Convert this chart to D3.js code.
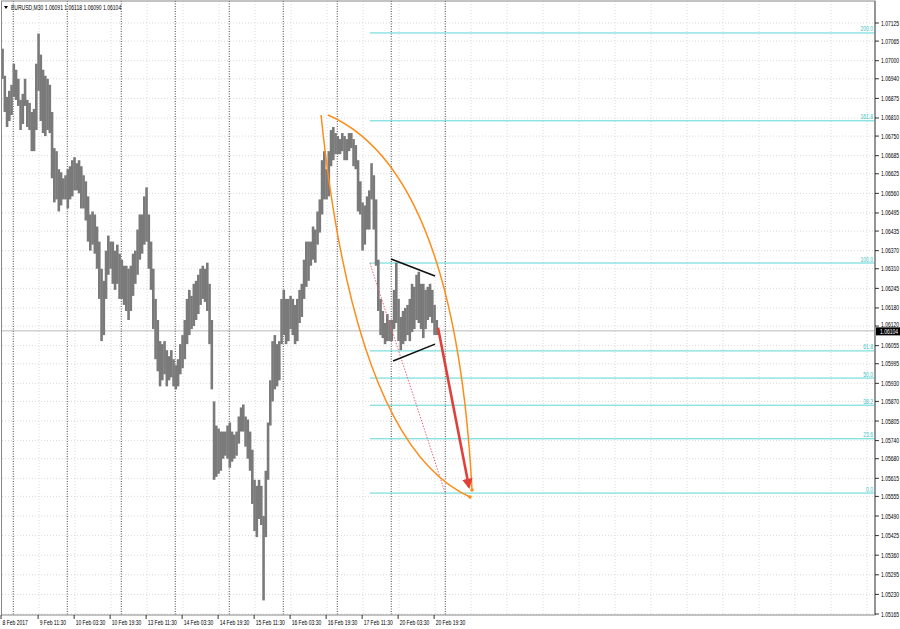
<!DOCTYPE html>
<html><head><meta charset="utf-8">
<script src="https://cdn.jsdelivr.net/npm/d3@7"></script>
<style>
body{margin:0;background:#fff}
svg{display:block}
text{font-family:"Liberation Sans",Arial,sans-serif;font-size:7px}
</style>
</head><body>
<svg id="c" width="900" height="629"></svg>
<script>
// ---------- data ----------
const symbolTitle = "EURUSD,M30";
const titleOHLC = ["1.06091", "1.06118", "1.06090", "1.06104"];
const bidPrice = 1.06104;

const priceTicks = [1.07125,1.07065,1.07000,1.06940,1.06875,1.06810,1.06750,1.06685,1.06625,1.06560,
  1.06495,1.06435,1.06370,1.06310,1.06245,1.06180,1.06120,1.06055,1.05995,1.05930,1.05870,1.05805,
  1.05740,1.05680,1.05615,1.05555,1.05490,1.05425,1.05360,1.05295,1.05230,1.05165];

// M30 bar index of each time label
const timeLabels = ["8 Feb 2017","9 Feb 11:30","10 Feb 03:30","10 Feb 19:30","13 Feb 11:30","14 Feb 03:30",
  "14 Feb 19:30","15 Feb 11:30","16 Feb 03:30","16 Feb 19:30","17 Feb 11:30","20 Feb 03:30","20 Feb 19:30"];
const timeLabelBars = [0,33,65,97,129,161,193,225,257,289,321,353,385];
const daySeparatorBars = [10,58,106,154,202,250,298,346,394];

// hourly high / low (each covers two M30 bars)
const barHighs = [
1.0704,1.0695,1.0688,1.0690,1.0692,1.0699,1.0697,1.0694,1.0687,1.0689,
1.0694,1.0687,1.0686,1.0683,1.0684,1.0699,1.0709,1.0702,1.0697,1.0695,
1.0694,1.0692,1.0683,1.0671,1.0670,1.0664,1.0663,1.0661,1.0662,1.0664,
1.0665,1.0667,1.0668,1.0666,1.0667,1.0665,1.0662,1.0660,1.0655,1.0649,
1.0650,1.0649,1.0645,1.0640,1.0631,1.0627,1.0637,1.0642,1.0640,1.0640,
1.0637,1.0639,1.0636,1.0634,1.0632,1.0632,1.0631,1.0632,1.0636,1.0637,
1.0644,1.0649,1.0649,1.0655,1.0658,1.0649,1.0640,1.0631,1.0621,1.0614,
1.0607,1.0606,1.0607,1.0604,1.0602,1.0604,1.0601,1.0599,1.0601,1.0606,
1.0609,1.0614,1.0621,1.0624,1.0622,1.0626,1.0627,1.0629,1.0631,1.0632,
1.0631,1.0633,1.0626,1.0614,1.0587,1.0579,1.0578,1.0577,1.0577,1.0577,
1.0579,1.0580,1.0577,1.0576,1.0577,1.0582,1.0585,1.0586,1.0582,1.0581,
1.0577,1.0571,1.0561,1.0559,1.0561,1.0559,1.0549,1.0564,1.0580,1.0594,
1.0607,1.0609,1.0606,1.0607,1.0621,1.0624,1.0621,1.0621,1.0622,1.0621,
1.0619,1.0621,1.0624,1.0626,1.0634,1.0640,1.0640,1.0640,1.0645,1.0644,
1.0650,1.0654,1.0667,1.0670,1.0664,1.0670,1.0677,1.0678,1.0676,1.0675,
1.0674,1.0676,1.0675,1.0674,1.0676,1.0676,1.0674,1.0672,1.0667,1.0660,
1.0653,1.0652,1.0655,1.0657,1.0666,1.0662,1.0654,1.0634,1.0621,1.0617,
1.0613,1.0616,1.0614,1.0614,1.0624,1.0633,1.0621,1.0615,1.0617,1.0618,
1.0619,1.0621,1.0626,1.0625,1.0629,1.0630,1.0626,1.0626,1.0624,1.0625,
1.0626,1.0624,1.0619,1.0614];
const barLows = [
1.0694,1.0683,1.0678,1.0680,1.0682,1.0688,1.0687,1.0685,1.0677,1.0679,
1.0685,1.0678,1.0677,1.0670,1.0670,1.0677,1.0690,1.0680,1.0676,1.0675,
1.0677,1.0676,1.0661,1.0653,1.0654,1.0650,1.0652,1.0654,1.0654,1.0651,
1.0654,1.0655,1.0657,1.0657,1.0656,1.0651,1.0651,1.0647,1.0640,1.0637,
1.0639,1.0636,1.0631,1.0621,1.0607,1.0609,1.0621,1.0629,1.0631,1.0626,
1.0624,1.0626,1.0621,1.0621,1.0619,1.0617,1.0614,1.0617,1.0622,1.0626,
1.0629,1.0634,1.0636,1.0639,1.0640,1.0631,1.0624,1.0611,1.0601,1.0597,
1.0592,1.0594,1.0596,1.0592,1.0594,1.0595,1.0592,1.0591,1.0592,1.0596,
1.0598,1.0601,1.0606,1.0609,1.0611,1.0612,1.0614,1.0616,1.0619,1.0621,
1.0620,1.0617,1.0606,1.0591,1.0561,1.0562,1.0563,1.0564,1.0568,1.0569,
1.0568,1.0565,1.0567,1.0568,1.0569,1.0573,1.0577,1.0577,1.0572,1.0568,
1.0564,1.0553,1.0544,1.0542,1.0548,1.0546,1.0521,1.0542,1.0561,1.0579,
1.0587,1.0591,1.0592,1.0594,1.0606,1.0609,1.0606,1.0607,1.0611,1.0609,
1.0606,1.0607,1.0613,1.0615,1.0621,1.0625,1.0627,1.0632,1.0634,1.0633,
1.0639,1.0643,1.0649,1.0654,1.0654,1.0655,1.0665,1.0667,1.0669,1.0669,
1.0669,1.0670,1.0667,1.0667,1.0670,1.0671,1.0665,1.0664,1.0650,1.0649,
1.0637,1.0639,1.0644,1.0644,1.0654,1.0644,1.0632,1.0617,1.0609,1.0608,
1.0606,1.0607,1.0607,1.0607,1.0611,1.0613,1.0607,1.0604,1.0606,1.0607,
1.0609,1.0607,1.0610,1.0611,1.0614,1.0613,1.0611,1.0608,1.0611,1.0614,
1.0615,1.0613,1.0609,1.0609];

// Fibonacci retracement
const fibLevels = [0, 23.6, 38.2, 50, 61.8, 100, 161.8, 200];
const fibLabels = ["0.0","23.6","38.2","50.0","61.8","100.0","161.8","200.0"];
const fibPrice0 = 1.05566, fibPrice100 = 1.06329;
const fibStartBar = 327, fibEndBar = 394;

// drawn objects: [bar, price]
const leftArc = [[283.6,1.06820],[313.8,1.05725],[416.0,1.05553]];   // start, control, end
const rightArc = [[289.8,1.06820],[402.7,1.06637],[417.8,1.05576]];
const triUpper = [[345.8,1.06342],[384.9,1.06286]];
const triLower = [[347.6,1.06004],[384.9,1.06060]];
const arrowLine = [[387.6,1.06114],[415.1,1.05586]];

// ---------- scales ----------
const svg = d3.select("#c");
const L = 2, R = 875, T = 1, B = 615;
const x = d3.scaleLinear().domain([0, 776]).range([L, R]);
const y = d3.scaleLinear().domain([1.05165, 1.07125]).range([614, 23]);
const SX = 0.72; // horizontal compression of labels

svg.append("defs").append("marker").attr("id","ah").attr("viewBox","0 0 10 10")
  .attr("refX",8).attr("refY",5).attr("markerWidth",4).attr("markerHeight",4)
  .attr("orient","auto").append("path").attr("d","M0,0L10,5L0,10z").attr("fill","#e0403a");

// grid
const grid = svg.append("g");
grid.selectAll(".hg").data(priceTicks).join("line")
  .attr("x1",L).attr("x2",R).attr("y1",d=>y(d)).attr("y2",d=>y(d))
  .attr("stroke","#cfcfcf").attr("stroke-width",0.8).attr("stroke-dasharray","1,2");
grid.selectAll(".vg").data(d3.range(33, 777, 32)).join("line")
  .attr("x1",d=>x(d)).attr("x2",d=>x(d)).attr("y1",T).attr("y2",B)
  .attr("stroke","#d6d6d6").attr("stroke-width",0.8).attr("stroke-dasharray","1,2");
grid.selectAll(".sep").data(daySeparatorBars).join("line")
  .attr("x1",d=>x(d)).attr("x2",d=>x(d)).attr("y1",T).attr("y2",B)
  .attr("stroke","#444").attr("stroke-width",1).attr("stroke-dasharray","1,1.5");

// fib lines
const fibPrice = lv => fibPrice0 + (fibPrice100 - fibPrice0) * lv / 100;
const fib = svg.append("g");
fib.selectAll("line").data(fibLevels).join("line")
  .attr("x1",x(fibStartBar)).attr("x2",R).attr("y1",d=>y(fibPrice(d))).attr("y2",d=>y(fibPrice(d)))
  .attr("stroke","#5cd6d6").attr("stroke-width",1);
fib.selectAll("text").data(fibLevels).join("text")
  .attr("transform",d=>`translate(${R-2},${y(fibPrice(d))-1.5}) scale(${SX},1)`)
  .attr("text-anchor","end").attr("fill","#3cc4c4").text((d,i)=>fibLabels[i]);

// bid line
svg.append("line").attr("x1",L).attr("x2",R).attr("y1",y(bidPrice)).attr("y2",y(bidPrice))
  .attr("stroke","#a8a8a8").attr("stroke-width",0.8);

// price bars
svg.append("g").selectAll("line").data(barHighs).join("line")
  .attr("x1",(d,i)=>x(2*i+0.5)).attr("x2",(d,i)=>x(2*i+0.5))
  .attr("y1",d=>y(d)).attr("y2",(d,i)=>y(barLows[i]))
  .attr("stroke","#7a7a7a").attr("stroke-width",2.6);

// fib baseline (dotted)
svg.append("line")
  .attr("x1",x(fibStartBar)).attr("y1",y(fibPrice100))
  .attr("x2",x(fibEndBar)).attr("y2",y(fibPrice0))
  .attr("stroke","#f0607a").attr("stroke-width",1).attr("stroke-dasharray","1.5,1.5");

// arcs
function arcPath(a){
  const p = d3.path();
  p.moveTo(x(a[0][0]), y(a[0][1]));
  p.quadraticCurveTo(x(a[1][0]), y(a[1][1]), x(a[2][0]), y(a[2][1]));
  return p.toString();
}
[leftArc, rightArc].forEach(a=>{
  svg.append("path").attr("d",arcPath(a)).attr("fill","none")
    .attr("stroke","#ff8c1a").attr("stroke-width",1.5);
  svg.append("circle").attr("cx",x(a[2][0])).attr("cy",y(a[2][1])).attr("r",1.8).attr("fill","#ff8c1a");
});

// triangle lines
[triUpper, triLower].forEach(t=>{
  svg.append("line").attr("x1",x(t[0][0])).attr("y1",y(t[0][1]))
    .attr("x2",x(t[1][0])).attr("y2",y(t[1][1]))
    .attr("stroke","#111").attr("stroke-width",1.6);
});

// red arrow
svg.append("line").attr("x1",x(arrowLine[0][0])).attr("y1",y(arrowLine[0][1]))
  .attr("x2",x(arrowLine[1][0])).attr("y2",y(arrowLine[1][1]))
  .attr("stroke","#e0403a").attr("stroke-width",2.6).attr("marker-end","url(#ah)");

// frame
svg.append("rect").attr("x",L-0.5).attr("y",T).attr("width",R-L+0.5).attr("height",B-T)
  .attr("fill","none").attr("stroke","#888").attr("stroke-width",1);
svg.append("line").attr("x1",R).attr("x2",R).attr("y1",T).attr("y2",B)
  .attr("stroke","#8a8a8a").attr("stroke-width",1.6);

// price axis
const pa = svg.append("g");
pa.selectAll("line").data(priceTicks).join("line")
  .attr("x1",R).attr("x2",R+4).attr("y1",d=>y(d)).attr("y2",d=>y(d))
  .attr("stroke","#000").attr("stroke-width",0.8);
pa.selectAll("text").data(priceTicks).join("text")
  .attr("transform",d=>`translate(${R+6},${y(d)+2.5 - (Math.abs(y(d)-y(bidPrice))<9 ? 1.5 : 0)}) scale(${SX},1)`)
  .attr("fill","#000").text(d=>d.toFixed(5));
svg.append("rect").attr("x",R+1).attr("y",y(bidPrice)-3.5).attr("width",900-R-1).attr("height",8).attr("fill","#000");
svg.append("text").attr("transform",`translate(${R+5},${y(bidPrice)+2.8}) scale(${SX},1)`)
  .attr("fill","#fff").text(bidPrice.toFixed(5));

// time axis
const ta = svg.append("g");
ta.selectAll("line").data(timeLabelBars).join("line")
  .attr("x1",d=>x(d)-1).attr("x2",d=>x(d)-1).attr("y1",B).attr("y2",B+4)
  .attr("stroke","#000").attr("stroke-width",0.8);
ta.selectAll("text").data(timeLabelBars).join("text")
  .attr("transform",d=>`translate(${x(d)+0.5},${B+9.5}) scale(${SX},1)`)
  .attr("fill","#000").text((d,i)=>timeLabels[i]);

// title
svg.append("path").attr("d","M4,6L8,6L6,9z").attr("fill","#000");
svg.append("text").attr("transform",`translate(11,10) scale(${SX},1)`)
  .attr("fill","#000").text(symbolTitle + "  " + titleOHLC.join(" "));
</script>
</body></html>
